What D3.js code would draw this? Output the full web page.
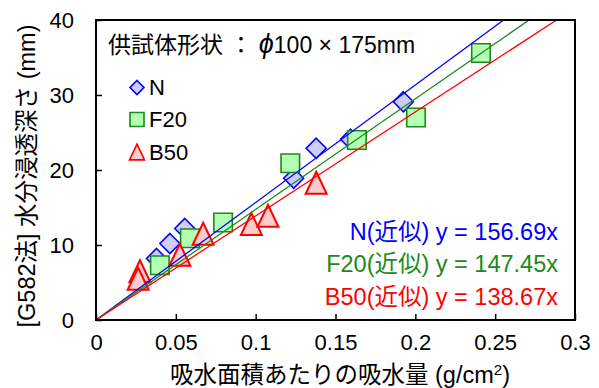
<!DOCTYPE html>
<html>
<head>
<meta charset="utf-8">
<script src="https://cdn.jsdelivr.net/npm/d3@7"></script>
<style>
  html, body { margin: 0; padding: 0; background: #fff; }
  svg text { font-family: "Liberation Sans", Arial, "Noto Sans CJK JP", sans-serif; }
</style>
</head>
<body>
<svg id="chart" width="599" height="388"></svg>
<script>
// Absorption per unit area (g/cm2) vs. penetration depth (mm)
const seriesNames = ["N", "F20", "B50"];
const slopes = [156.69, 147.45, 138.67];

const nX = [0.0379, 0.0463, 0.0556, 0.1238, 0.1379, 0.1594, 0.1925];
const nY = [8.2, 10.2, 12.2, 18.9, 22.9, 24.1, 29.1];

const f20X = [0.0400, 0.0588, 0.0796, 0.1217, 0.1634, 0.2004, 0.2411];
const f20Y = [7.3, 10.9, 13.0, 20.9, 24.0, 27.0, 35.6];

const b50X = [0.0275, 0.0264, 0.0525, 0.0671, 0.0973, 0.1077, 0.1379];
const b50Y = [6.5, 5.5, 8.7, 11.5, 12.8, 13.9, 18.3];

const xTicks = [0, 0.05, 0.1, 0.15, 0.2, 0.25, 0.3];
const yTicks = [0, 10, 20, 30, 40];

const svg = d3.select("#chart");
const L = 96, R = 575, T = 20, B = 320;
const x = d3.scaleLinear().domain([0, 0.3]).range([L, R]);
const y = d3.scaleLinear().domain([0, 40]).range([B, T]);

const styles = [
  { stroke: "#0000ff", fill: "#ccccff", line: "#0000ff", text: "#0000ff" },
  { stroke: "#1a8a1a", fill: "#b3ffb3", line: "#1a8a1a", text: "#1a8a1a" },
  { stroke: "#ff0000", fill: "#ffcccc", line: "#ff0000", text: "#ff0000" }
];

// marker shapes: diamond, square, triangle (size = bounding width)
const diamond = { draw(ctx, s) { const h = s / 2; ctx.moveTo(0, -h); ctx.lineTo(h, 0); ctx.lineTo(0, h); ctx.lineTo(-h, 0); ctx.closePath(); } };
const square = { draw(ctx, s) { const h = s / 2; ctx.moveTo(-h, -h); ctx.lineTo(h, -h); ctx.lineTo(h, h); ctx.lineTo(-h, h); ctx.closePath(); } };
const triangle = { draw(ctx, s) { const w = s / 2, hh = s * 1.05 / 2; ctx.moveTo(0, -hh); ctx.lineTo(w, hh); ctx.lineTo(-w, hh); ctx.closePath(); } };
const shapes = [diamond, square, triangle];
const markerSize = [20, 18.5, 21];
const legendSize = [14, 14, 15];

svg.append("defs").append("clipPath").attr("id", "plot")
  .append("rect").attr("x", L).attr("y", T).attr("width", R - L).attr("height", B - T);

// data points
const data = [
  d3.zip(nX, nY), d3.zip(f20X, f20Y), d3.zip(b50X, b50Y)
];
data.forEach((pts, i) => {
  svg.append("g").selectAll("path").data(pts).join("path")
    .attr("d", d3.symbol().type(shapes[i]).size(markerSize[i]))
    .attr("transform", d => `translate(${x(d[0])},${y(d[1])})`)
    .attr("fill", styles[i].fill)
    .attr("stroke", styles[i].stroke)
    .attr("stroke-width", i === 2 ? 2 : 1.6);
});

// fitted lines through the origin
const lineGen = d3.line().x(d => x(d[0])).y(d => y(d[1]));
slopes.forEach((k, i) => {
  const xe = 40 / k;
  svg.append("path")
    .attr("d", lineGen([[0, 0], [xe, 40]]))
    .attr("clip-path", "url(#plot)")
    .attr("fill", "none")
    .attr("stroke", styles[i].line)
    .attr("stroke-width", 1.3);
});

// axes with inward ticks
const xAxis = svg.append("g").attr("transform", `translate(0,${B})`)
  .call(d3.axisBottom(x).tickValues(xTicks).tickSize(-6).tickPadding(14).tickFormat(d => String(d)));
const yAxis = svg.append("g").attr("transform", `translate(${L},0)`)
  .call(d3.axisLeft(y).tickValues(yTicks).tickSize(-6).tickPadding(22).tickFormat(d => String(d)));
[xAxis, yAxis].forEach(g => {
  g.select(".domain").remove();
  g.selectAll(".tick line").attr("stroke", "#000").attr("stroke-width", 1.5);
  g.selectAll(".tick text").attr("font-size", 22).attr("fill", "#000")
    .style("font-family", '"Liberation Sans", Arial, sans-serif');
});
xAxis.selectAll(".tick text").attr("dy", "0.71em");
yAxis.selectAll(".tick text").attr("dy", "0.34em");

// frame
svg.append("rect").attr("x", L).attr("y", T).attr("width", R - L).attr("height", B - T)
  .attr("fill", "none").attr("stroke", "#000").attr("stroke-width", 2);

// axis titles
const xt = svg.append("text").attr("x", 340).attr("y", 383).attr("text-anchor", "middle")
  .attr("font-size", 23.5).attr("fill", "#000");
xt.append("tspan").text("吸水面積あたりの吸水量 (g/cm");
xt.append("tspan").attr("font-size", 15).attr("dy", -8).text("2");
xt.append("tspan").attr("dy", 8).text(")");

svg.append("text").attr("transform", "translate(35,176) rotate(-90)")
  .attr("text-anchor", "middle").attr("font-size", 23.5).attr("fill", "#000")
  .text("[G582法] 水分浸透深さ (mm)");

// specimen note
const note = svg.append("text").attr("x", 108).attr("y", 53).attr("font-size", 23).attr("fill", "#000");
note.append("tspan").text("供試体形状 ： ");
note.append("tspan").attr("font-size", 27).attr("font-style", "italic").text("ϕ");
note.append("tspan").text("100 × 175mm");

// legend
const legendY = [87.5, 119.5, 152];
seriesNames.forEach((name, i) => {
  svg.append("path")
    .attr("d", d3.symbol().type(shapes[i]).size(legendSize[i]))
    .attr("transform", `translate(137,${legendY[i]})`)
    .attr("fill", styles[i].fill).attr("stroke", styles[i].stroke).attr("stroke-width", 1.6);
  svg.append("text").attr("x", 149).attr("y", legendY[i]).attr("dy", "0.36em")
    .attr("font-size", 22).attr("fill", "#000").text(name);
});

// regression equations
const eqY = [232, 264, 297];
seriesNames.forEach((name, i) => {
  svg.append("text").attr("x", 558).attr("y", eqY[i]).attr("dy", "0.36em")
    .attr("text-anchor", "end").attr("font-size", 23.5).attr("fill", styles[i].text)
    .text(`${name}(近似) y = ${slopes[i].toFixed(2)}x`);
});
</script>
</body>
</html>
